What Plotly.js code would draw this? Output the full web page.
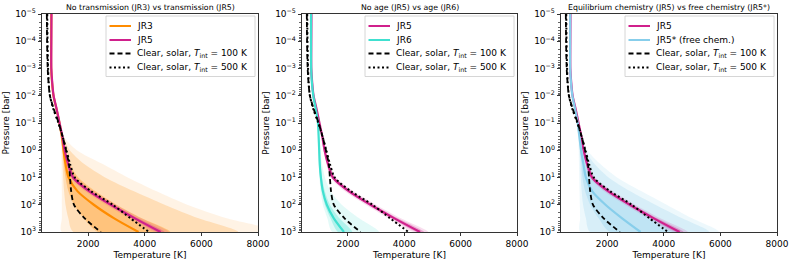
<!DOCTYPE html>
<html>
<head>
<meta charset="utf-8">
<script src="https://cdn.plot.ly/plotly-3.0.1.min.js"></script>
<style>html,body{margin:0;padding:0;background:#fff;}#chart{width:793px;height:263px;}</style>
</head>
<body>
<div id="chart"></div>
<script>
// ---------- DATA ----------
const pressure = [1e-5, 1e-4, 1e-3, 3.16e-3, 1e-2, 3.16e-2, 0.1, 0.316, 1, 3.16, 10, 31.6, 100, 316, 1000];

const tJR3  = [700, 695, 695, 725, 775, 885, 985, 1070, 1130, 1200, 1310, 1620, 2200, 2920, 3780];
const tJR5  = [705, 700, 700, 730, 780, 890, 990, 1090, 1170, 1290, 1470, 2030, 2800, 3650, 4560];
const tJR6  = [690, 690, 695, 720, 770, 860, 935, 960, 980, 1000, 1040, 1110, 1250, 1500, 1860];
const tJR5s = [695, 693, 695, 722, 772, 870, 960, 1020, 1080, 1160, 1250, 1470, 1940, 2530, 3180];
const tClear100 = [540, 550, 570, 600, 650, 790, 960, 1100, 1220, 1320, 1360, 1400, 1500, 1880, 2450];
const tClear500 = [555, 565, 585, 605, 650, 775, 950, 1100, 1230, 1360, 1530, 2100, 2870, 3500, 4150];

// uncertainty envelopes (inner = 1 sigma, outer = 2/3 sigma)
const jr5Lo1 = [697, 692, 692, 722, 772, 882, 982, 1077, 1152, 1265, 1425, 1955, 2715, 3550, 4440];
const jr5Hi1 = [715, 710, 710, 740, 790, 900, 1000, 1105, 1190, 1320, 1525, 2110, 2900, 3770, 4700];
const jr5Lo2 = [690, 685, 685, 715, 765, 875, 975, 1065, 1135, 1240, 1380, 1880, 2630, 3450, 4330];
const jr5Hi2 = [725, 720, 720, 750, 800, 910, 1010, 1118, 1210, 1350, 1580, 2190, 2990, 3880, 4850];

const jr3Lo1 = [692, 687, 687, 717, 767, 877, 975, 1055, 1100, 1140, 1200, 1300, 1500, 1850, 2350];
const jr3Hi1 = [710, 705, 705, 735, 785, 895, 998, 1095, 1200, 1350, 1650, 2250, 3000, 3900, 4900];
const jr3Lo2 = [685, 680, 680, 710, 760, 870, 968, 1045, 1080, 1100, 1120, 1150, 1200, 1300, 1480];
const jr3Hi2 = [717, 712, 712, 742, 793, 905, 1010, 1115, 1350, 1850, 2600, 3600, 4700, 5900, 7300];
const jr3Lo3 = [675, 670, 670, 700, 750, 860, 955, 1025, 1050, 1060, 1065, 1070, 1070, 1070, 1070];
const jr3Hi3 = [730, 725, 725, 755, 807, 922, 1040, 1145, 1600, 2500, 3400, 4400, 5500, 6900, 8800];

const jr6Lo1 = [682, 682, 687, 712, 762, 852, 925, 948, 962, 978, 1010, 1065, 1180, 1380, 1650];
const jr6Hi1 = [698, 698, 703, 728, 778, 868, 945, 975, 1000, 1030, 1080, 1180, 1360, 1700, 2150];
const jr6Lo2 = [675, 675, 680, 705, 755, 845, 915, 938, 950, 962, 990, 1030, 1110, 1270, 1450];
const jr6Hi2 = [705, 705, 710, 735, 785, 875, 957, 990, 1025, 1080, 1185, 1380, 1780, 2400, 3100];

const jr5sLo1 = [687, 685, 687, 714, 764, 862, 950, 1005, 1045, 1090, 1130, 1220, 1400, 1700, 2100];
const jr5sHi1 = [703, 701, 703, 730, 780, 878, 970, 1035, 1135, 1260, 1450, 2000, 2750, 3600, 4500];
const jr5sLo2 = [680, 678, 680, 707, 757, 855, 940, 990, 1025, 1050, 1070, 1100, 1150, 1250, 1400];
const jr5sHi2 = [710, 708, 710, 737, 787, 885, 980, 1060, 1230, 1550, 2050, 2800, 3700, 4650, 5600];
const jr5sLo3 = [673, 671, 673, 700, 750, 848, 930, 975, 995, 1005, 1015, 1025, 1035, 1045, 1055];
const jr5sHi3 = [717, 715, 717, 744, 794, 895, 995, 1090, 1300, 1750, 2350, 3200, 4100, 5000, 5950];

const xTickVals = [2000, 4000, 6000, 8000];
const yTickVals = [1e-5, 1e-4, 1e-3, 1e-2, 1e-1, 1, 10, 100, 1000];
const yTickText = ['10<sup>−5</sup>','10<sup>−4</sup>','10<sup>−3</sup>','10<sup>−2</sup>','10<sup>−1</sup>','10<sup>0</sup>','10<sup>1</sup>','10<sup>2</sup>','10<sup>3</sup>'];
const panelTitles = ['No transmission (JR3) vs transmission (JR5)', 'No age (JR5) vs age (JR6)', 'Equilibrium chemistry (JR5) vs free chemistry (JR5*)'];
const labClear100 = 'Clear, solar, <i>T</i><sub>int</sub> = 100 K';
const labClear500 = 'Clear, solar, <i>T</i><sub>int</sub> = 500 K';
const legendLabels = [
  ['JR3', 'JR5', labClear100, labClear500],
  ['JR5', 'JR6', labClear100, labClear500],
  ['JR5', 'JR5* (free chem.)', labClear100, labClear500]
];

// ---------- STYLE ----------
const C_JR3 = '#ff8c00', C_JR5 = '#d0208c', C_JR6 = '#40e0d0', C_JR5S = '#87ceeb';
const FONT = 'DejaVu Sans, Liberation Sans, sans-serif';
const DASH = '5px,3px', DOT = '2px,2.5px';
const legendStyles = [
  [[C_JR3, 'solid'], [C_JR5, 'solid'], ['#000', DASH], ['#000', DOT]],
  [[C_JR5, 'solid'], [C_JR6, 'solid'], ['#000', DASH], ['#000', DOT]],
  [[C_JR5, 'solid'], [C_JR5S, 'solid'], ['#000', DASH], ['#000', DOT]]
];

function band(lo, hi, rgb, alpha, ax) {
  return {
    x: lo.concat(hi.slice().reverse()),
    y: pressure.concat(pressure.slice().reverse()),
    xaxis: 'x' + ax, yaxis: 'y' + ax,
    mode: 'lines', fill: 'toself', fillcolor: 'rgba(' + rgb + ',' + alpha + ')',
    line: {width: 0, shape: 'spline', smoothing: 0.8}, hoverinfo: 'skip', showlegend: false
  };
}
function line(t, color, name, ax, dash, width) {
  return {
    x: t, y: pressure, xaxis: 'x' + ax, yaxis: 'y' + ax, mode: 'lines', name: name, showlegend: false,
    line: {color: color, width: width || 2.2, dash: dash || 'solid', shape: 'spline', smoothing: 0.8}
  };
}
const O = '255,140,0', M = '208,32,140', T = '64,224,208', S = '135,206,235';
const traces = [];
// panel 1
traces.push(band(jr3Lo3, jr3Hi3, O, 0.10, ''), band(jr3Lo2, jr3Hi2, O, 0.2, ''), band(jr3Lo1, jr3Hi1, O, 0.32, ''));
traces.push(band(jr5Lo2, jr5Hi2, M, 0.15, ''), band(jr5Lo1, jr5Hi1, M, 0.3, ''));
traces.push(line(tJR3, C_JR3, 'JR3', ''), line(tJR5, C_JR5, 'JR5', ''));
traces.push(line(tClear100, '#000', labClear100, '', DASH, 1.8), line(tClear500, '#000', labClear500, '', DOT, 2));
// panel 2
traces.push(band(jr6Lo2, jr6Hi2, T, 0.15, '2'), band(jr6Lo1, jr6Hi1, T, 0.3, '2'));
traces.push(band(jr5Lo2, jr5Hi2, M, 0.15, '2'), band(jr5Lo1, jr5Hi1, M, 0.3, '2'));
traces.push(line(tJR5, C_JR5, 'JR5', '2'), line(tJR6, C_JR6, 'JR6', '2'));
traces.push(line(tClear100, '#000', labClear100, '2', DASH, 1.8), line(tClear500, '#000', labClear500, '2', DOT, 2));
// panel 3
traces.push(band(jr5sLo3, jr5sHi3, S, 0.15, '3'), band(jr5sLo2, jr5sHi2, S, 0.22, '3'), band(jr5sLo1, jr5sHi1, S, 0.3, '3'));
traces.push(band(jr5Lo2, jr5Hi2, M, 0.15, '3'), band(jr5Lo1, jr5Hi1, M, 0.3, '3'));
traces.push(line(tJR5, C_JR5, 'JR5', '3'), line(tJR5s, C_JR5S, 'JR5* (free chem.)', '3'));
traces.push(line(tClear100, '#000', labClear100, '3', DASH, 1.8), line(tClear500, '#000', labClear500, '3', DOT, 2));

const minorVals = [];
for (let e = -5; e < 3; e++) for (let m = 2; m <= 9; m++) minorVals.push(m * Math.pow(10, e));

const W = 793, PT = 14, PB = 232;
const doms = [[42 / W, 258 / W], [302 / W, 517 / W], [561 / W, 777 / W]];
const fy = py => (PB - py) / (PB - PT);
function xax(i) {
  return {
    domain: doms[i], range: [370, 8000], autorange: false, tickvals: xTickVals, ticktext: xTickVals.map(String),
    ticks: 'outside', ticklen: 3.5, tickcolor: '#000', tickwidth: 0.8, showline: true, linecolor: '#000', linewidth: 0.8,
    mirror: true, showgrid: false, zeroline: false, tickfont: {size: 9, color: '#000'},
    title: {text: 'Temperature [K]', font: {size: 9, color: '#000'}, standoff: 3}, anchor: 'y' + (i ? i + 1 : ''), automargin: false
  };
}
function yax(i) {
  return {
    type: 'log', range: [3, -5], autorange: false, tickvals: yTickVals, ticktext: yTickText,
    ticks: 'outside', ticklen: 3.5, tickcolor: '#000', tickwidth: 0.8, showline: true, linecolor: '#000', linewidth: 0.8,
    mirror: true, showgrid: false, zeroline: false, tickfont: {size: 9, color: '#000'},
    minor: {tickvals: minorVals, ticks: 'outside', ticklen: 2, tickcolor: '#000', tickwidth: 0.6, showgrid: false},
    title: {text: 'Pressure [bar]', font: {size: 9, color: '#000'}, standoff: 3}, anchor: 'x' + (i ? i + 1 : ''), automargin: false
  };
}

// hand-built legends (matplotlib-like compact boxes)
const shapes = [], annotations = [];
const rowY = [26, 40, 53.5, 67.5];
for (let i = 0; i < 3; i++) {
  const right = doms[i][1] * W - 3, left = right - 149;
  shapes.push({type: 'rect', xref: 'paper', yref: 'paper', layer: 'above',
    x0: left / W, x1: right / W, y0: fy(76.5), y1: fy(16),
    fillcolor: 'rgba(255,255,255,0.8)', line: {color: '#cccccc', width: 0.8}});
  for (let k = 0; k < 4; k++) {
    const st = legendStyles[i][k];
    shapes.push({type: 'line', xref: 'paper', yref: 'paper', layer: 'above',
      x0: (left + 3.5) / W, x1: (left + 25) / W, y0: fy(rowY[k]), y1: fy(rowY[k]),
      line: {color: st[0], width: 2, dash: st[1]}});
    annotations.push({text: legendLabels[i][k], xref: 'paper', yref: 'paper', x: (left + 29.5) / W, y: fy(rowY[k]),
      xanchor: 'left', yanchor: 'middle', showarrow: false, font: {size: 9, color: '#000'}, borderpad: 0});
  }
  annotations.push({text: panelTitles[i], xref: 'paper', yref: 'paper', x: (doms[i][0] + doms[i][1]) / 2, y: 1,
    xanchor: 'center', yanchor: 'bottom', yshift: 0, showarrow: false, font: {size: 7.8, color: '#000'}});
}

const layout = {
  width: 793, height: 263, margin: {l: 0, r: 0, t: PT, b: 263 - PB}, paper_bgcolor: '#fff', plot_bgcolor: '#fff',
  font: {family: FONT, color: '#000'}, showlegend: false,
  xaxis: xax(0), xaxis2: xax(1), xaxis3: xax(2), yaxis: yax(0), yaxis2: yax(1), yaxis3: yax(2),
  shapes: shapes, annotations: annotations
};
Plotly.newPlot('chart', traces, layout, {displayModeBar: false, staticPlot: true});
</script>
</body>
</html>
